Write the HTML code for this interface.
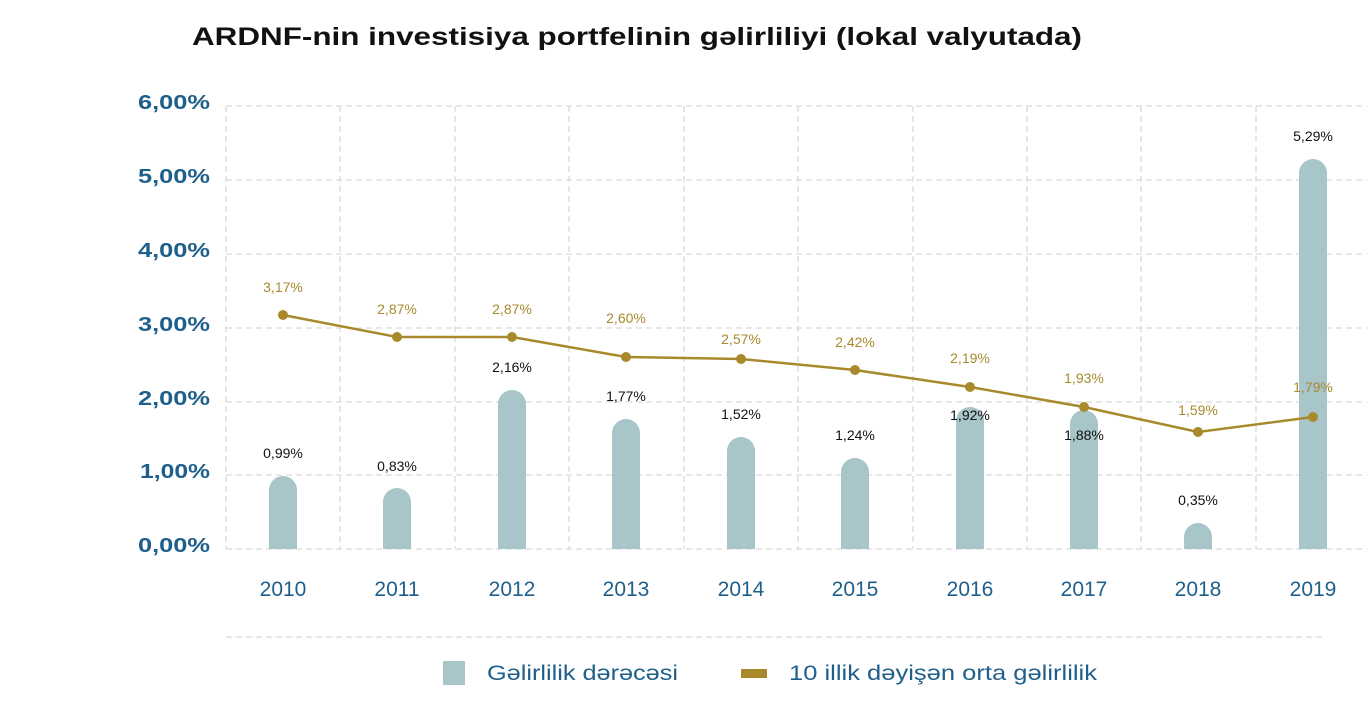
<!DOCTYPE html>
<html><head><meta charset="utf-8"><style>
body{margin:0;background:#fff;}
svg{display:block;font-family:"Liberation Sans",sans-serif;}
</style></head><body>
<svg width="1367" height="719" viewBox="0 0 1367 719">
<text x="192" y="45" font-size="25" font-weight="bold" fill="#111" textLength="890" lengthAdjust="spacingAndGlyphs">ARDNF-nin investisiya portfelinin gəlirliliyi (lokal valyutada)</text>
<g stroke="#d9d9d9" stroke-width="1.3" stroke-dasharray="6,4" fill="none">
<line x1="226" y1="106" x2="1367" y2="106"/>
<line x1="226" y1="180" x2="1367" y2="180"/>
<line x1="226" y1="254" x2="1367" y2="254"/>
<line x1="226" y1="328" x2="1367" y2="328"/>
<line x1="226" y1="402" x2="1367" y2="402"/>
<line x1="226" y1="475" x2="1367" y2="475"/>
<line x1="226" y1="549" x2="1367" y2="549"/>
<line x1="226" y1="637" x2="1325" y2="637"/>
<line x1="226" y1="106" x2="226" y2="549"/>
<line x1="340" y1="106" x2="340" y2="549"/>
<line x1="455" y1="106" x2="455" y2="549"/>
<line x1="569" y1="106" x2="569" y2="549"/>
<line x1="684" y1="106" x2="684" y2="549"/>
<line x1="798" y1="106" x2="798" y2="549"/>
<line x1="913" y1="106" x2="913" y2="549"/>
<line x1="1027" y1="106" x2="1027" y2="549"/>
<line x1="1141" y1="106" x2="1141" y2="549"/>
<line x1="1256" y1="106" x2="1256" y2="549"/>
</g>
<g font-size="20" font-weight="bold" fill="#1f5f8b">
<text x="138" y="109" textLength="72" lengthAdjust="spacingAndGlyphs">6,00%</text><text x="138" y="183" textLength="72" lengthAdjust="spacingAndGlyphs">5,00%</text><text x="138" y="257" textLength="72" lengthAdjust="spacingAndGlyphs">4,00%</text>
<text x="138" y="331" textLength="72" lengthAdjust="spacingAndGlyphs">3,00%</text><text x="138" y="405" textLength="72" lengthAdjust="spacingAndGlyphs">2,00%</text><text x="140" y="478" textLength="70" lengthAdjust="spacingAndGlyphs">1,00%</text><text x="138" y="552" textLength="72" lengthAdjust="spacingAndGlyphs">0,00%</text>
</g>
<g fill="#a8c5c9">
<path d="M269,549V490a14,14 0 0 1 28,0V549Z"/>
<path d="M383,549V502a14,14 0 0 1 28,0V549Z"/>
<path d="M498,549V404a14,14 0 0 1 28,0V549Z"/>
<path d="M612,549V433a14,14 0 0 1 28,0V549Z"/>
<path d="M727,549V451a14,14 0 0 1 28,0V549Z"/>
<path d="M841,549V472a14,14 0 0 1 28,0V549Z"/>
<path d="M956,549V421a14,14 0 0 1 28,0V549Z"/>
<path d="M1070,549V424a14,14 0 0 1 28,0V549Z"/>
<path d="M1184,549V537a14,14 0 0 1 28,0V549Z"/>
<path d="M1299,549V173a14,14 0 0 1 28,0V549Z"/>
</g>
<polyline fill="none" stroke="#a88a2c" stroke-width="2.5" points="283,315 397,337 512,337 626,357 741,359 855,370 970,387 1084,407 1198,432 1313,417"/>
<g fill="#a88a2c">
<circle cx="283" cy="315" r="5"/><circle cx="397" cy="337" r="5"/><circle cx="512" cy="337" r="5"/><circle cx="626" cy="357" r="5"/><circle cx="741" cy="359" r="5"/><circle cx="855" cy="370" r="5"/><circle cx="970" cy="387" r="5"/><circle cx="1084" cy="407" r="5"/><circle cx="1198" cy="432" r="5"/><circle cx="1313" cy="417" r="5"/>
</g>
<g font-size="14" fill="#a88a2c" text-anchor="middle">
<text x="283" y="292">3,17%</text><text x="397" y="314">2,87%</text><text x="512" y="314">2,87%</text><text x="626" y="323">2,60%</text><text x="741" y="344">2,57%</text><text x="855" y="347">2,42%</text><text x="970" y="363">2,19%</text><text x="1084" y="383">1,93%</text><text x="1198" y="415">1,59%</text><text x="1313" y="392">1,79%</text>
</g>
<g font-size="14" fill="#111" text-anchor="middle">
<text x="283" y="458">0,99%</text><text x="397" y="471">0,83%</text><text x="512" y="372">2,16%</text><text x="626" y="401">1,77%</text><text x="741" y="419">1,52%</text><text x="855" y="440">1,24%</text><text x="970" y="420">1,92%</text><text x="1084" y="440">1,88%</text><text x="1198" y="505">0,35%</text><text x="1313" y="141">5,29%</text>
</g>
<g font-size="21" fill="#1f5f8b" text-anchor="middle">
<text x="283" y="596">2010</text><text x="397" y="596">2011</text><text x="512" y="596">2012</text><text x="626" y="596">2013</text><text x="741" y="596">2014</text><text x="855" y="596">2015</text><text x="970" y="596">2016</text><text x="1084" y="596">2017</text><text x="1198" y="596">2018</text><text x="1313" y="596">2019</text>
</g>
<rect x="443" y="661" width="22" height="24" fill="#a8c5c9"/>
<text x="487" y="680" font-size="21" fill="#1f5f8b" textLength="191" lengthAdjust="spacingAndGlyphs">Gəlirlilik dərəcəsi</text>
<rect x="741" y="669" width="26" height="9" fill="#a88a2c"/>
<text x="789" y="680" font-size="21" fill="#1f5f8b" textLength="308" lengthAdjust="spacingAndGlyphs">10 illik dəyişən orta gəlirlilik</text>
</svg>
</body></html>
